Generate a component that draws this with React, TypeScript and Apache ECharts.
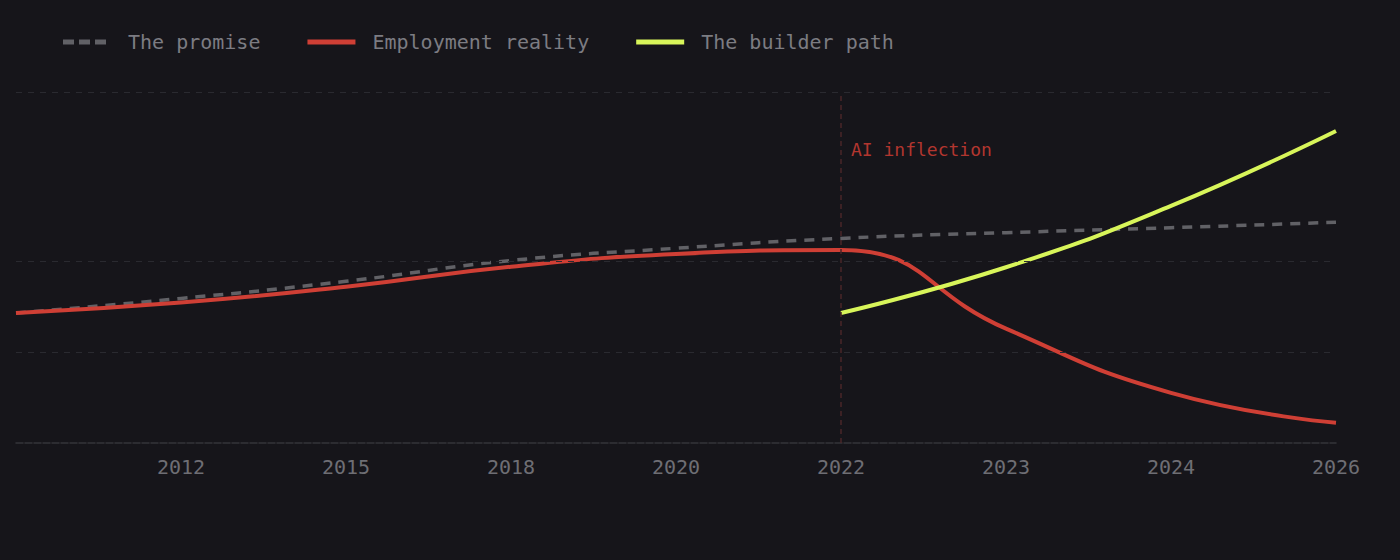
import React, { useEffect, useRef } from "react";
import * as echarts from "echarts";

const years = ["2010", "2012", "2015", "2018", "2020", "2022", "2023", "2024", "2026"];
const promise = [50, 55.6, 62.2, 70.2, 74.9, 78.7, 80.9, 82.8, 84.9];
const reality = [50, 54, 60.1, 67.8, 72.7, 74.2, 44, 19.3, 7.8];
const builder = [null, null, null, null, null, 50, 67.6, 91.2, 120];
const gridLevels = [35, 70, 135];
const inflectionYear = "2022";
const inflectionLabel = "AI inflection";
const inflectionLabelLevel = 112.8;

const FONT = "'DejaVu Sans Mono', 'Liberation Mono', monospace";
const BG = "#16151a";

const DASH_ICON =
  "path://M0,0h11v5h-11Z M16,0h11v5h-11Z M32,0h11v5h-11Z M47.9,4.9h0.1v0.1h-0.1Z";
const SOLID_ICON = "path://M0,0h48v5h-48Z";

export default function App() {
  const ref = useRef<HTMLDivElement>(null);

  useEffect(() => {
    document.body.style.margin = "0";
    document.body.style.background = BG;
    const chart = echarts.init(ref.current!, null, { renderer: "svg" });
    chart.setOption({
      animation: false,
      backgroundColor: BG,
      textStyle: { fontFamily: FONT },
      grid: { left: 16, right: 64, top: 92, bottom: 117 },
      legend: {
        left: 58,
        top: 27,
        itemWidth: 48,
        itemHeight: 5,
        itemGap: 47,
        data: [
          { name: "The promise", icon: DASH_ICON },
          { name: "Employment reality", icon: SOLID_ICON },
          { name: "The builder path", icon: SOLID_ICON },
        ],
        textStyle: {
          color: "#7c7c82",
          fontSize: 20,
          fontFamily: FONT,
          padding: [0, 0, 0, 12],
        },
      },
      xAxis: {
        type: "category",
        data: years,
        boundaryGap: false,
        axisTick: { show: false },
        axisLine: {
          show: true,
          lineStyle: { color: "#35353a", width: 1.5, type: [7, 2] },
        },
        axisLabel: {
          interval: 0,
          color: "#6e6e74",
          fontSize: 20,
          fontFamily: FONT,
          margin: 14,
          formatter: (v: string, i: number) => (i === 0 ? "" : v),
        },
        splitLine: { show: false },
      },
      yAxis: {
        type: "value",
        min: 0,
        max: 135,
        show: false,
        splitLine: { show: false },
      },
      series: [
        {
          name: "The promise",
          type: "line",
          data: promise,
          smooth: true,
          smoothConstraint: false,
          symbol: "none",
          z: 2,
          lineStyle: { color: "#616166", width: 3.5, type: [10, 8] },
          itemStyle: { color: "#616166" },
          markLine: {
            silent: true,
            symbol: "none",
            label: { show: false },
            lineStyle: { color: "#2a2a30", width: 1, type: [6, 6] },
            data: gridLevels.map((v) => ({ yAxis: v })),
          },
        },
        {
          name: "Employment reality",
          type: "line",
          data: reality,
          smooth: true,
          smoothConstraint: false,
          symbol: "none",
          z: 3,
          lineStyle: { color: "#cf3f35", width: 4 },
          itemStyle: { color: "#cf3f35" },
          markLine: {
            silent: true,
            symbol: "none",
            label: { show: false },
            lineStyle: { color: "#4a2629", width: 1.5, type: [5, 4] },
            data: [{ xAxis: inflectionYear }],
          },
          markPoint: {
            silent: true,
            symbol: "circle",
            symbolSize: 0,
            data: [
              {
                coord: [inflectionYear, inflectionLabelLevel],
                label: {
                  show: true,
                  position: "right",
                  distance: 10,
                  formatter: inflectionLabel,
                  color: "#b2362f",
                  fontSize: 18,
                  fontFamily: FONT,
                },
              },
            ],
          },
        },
        {
          name: "The builder path",
          type: "line",
          data: builder,
          smooth: true,
          smoothConstraint: false,
          symbol: "none",
          z: 4,
          lineStyle: { color: "#d8f55a", width: 4 },
          itemStyle: { color: "#d8f55a" },
        },
      ],
    });
    return () => chart.dispose();
  }, []);

  return (
    <div
      ref={ref}
      style={{ position: "absolute", left: 0, top: 0, width: 1400, height: 560 }}
    />
  );
}
